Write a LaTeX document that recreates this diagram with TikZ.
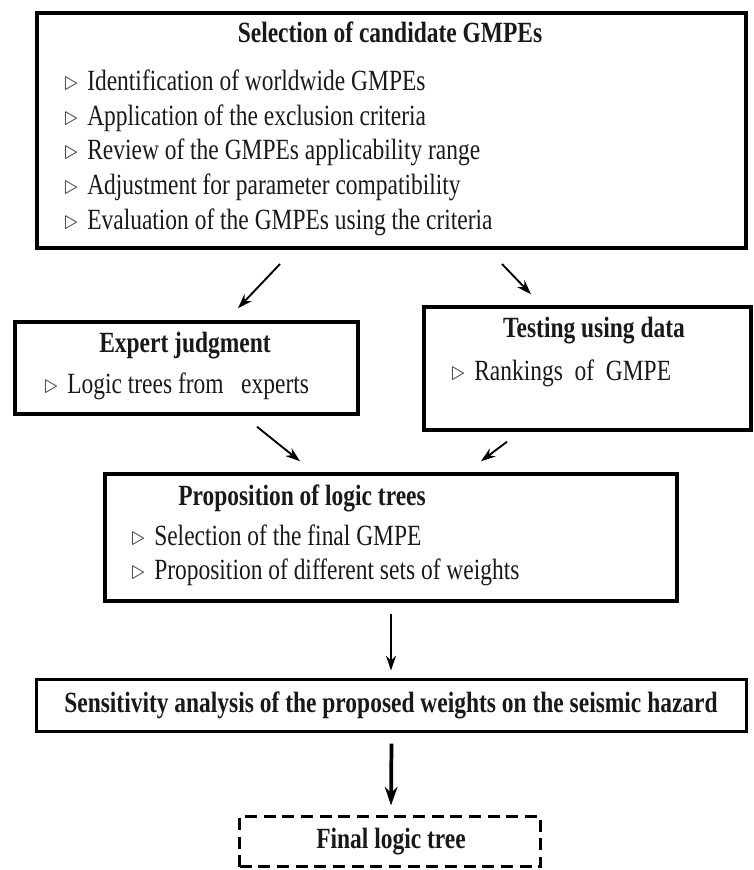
\documentclass[tikz,border=0pt]{standalone}
\usepackage{fontspec}
\setmainfont[FakeStretch=0.8]{Liberation Serif}
\usepackage{xcolor}
\usetikzlibrary{arrows.meta,calc,positioning}
\newcommand{\itm}{\makebox[17.25pt][l]{\textcolor{black!70}{\fontsize{20}{20}\selectfont$\triangleright$}}}

\begin{document}
\begin{tikzpicture}[x=0.75pt, y=-0.75pt,
		box/.style={draw, line width=2.6pt, inner sep=0pt},
		dashbox/.style={draw, line width=2.3pt, dash pattern=on 9pt off 5pt, inner sep=0pt},
		txt/.style={inner sep=0pt, anchor=base west, text=black!90, font=\fontsize{22}{24}\selectfont},
		head/.style={inner sep=0pt, anchor=base, text=black!90, font=\fontsize{22}{24}\selectfont\bfseries},
		arr/.style={-{Stealth[length=11pt, width=7.5pt]}, line width=1.4pt}]
	\useasboundingbox (0,0) rectangle (753,870);
	
	% Kaesten
	\node[box, line width=3pt, minimum width=531.75pt, minimum height=176.25pt] (sel) at (391.5,130.5) {};
	\node[box, minimum width=257pt, minimum height=69pt] (exp) at (186.5,368) {};
	\node[box, minimum width=245pt, minimum height=92.25pt] (test) at (587.5,368.5) {};
	\node[box, minimum width=429pt, minimum height=95.25pt] (prop) at (391,537.5) {};
	\node[box, line width=2.3pt, minimum width=532.5pt, minimum height=39pt] (sens) at (391.5,705.5) {};
	\node[dashbox, minimum width=225.75pt, minimum height=37.5pt] (final) at (390,841.5) {};
	
	% Auswahl der GMPEs
	\node[head] (sel-t) at (390,43) {Selection of candidate GMPEs};
	\foreach \txt [count=\k] in {Identification of worldwide GMPEs, Application of the exclusion criteria, Review of the GMPEs applicability range, Adjustment for parameter compatibility, Evaluation of the GMPEs using the criteria}
		\node[txt] (sel-\k) at (64,{91+34.5*(\k-1)}) {\itm\txt};
	
	\node[head] (exp-t) at (185,352) {Expert judgment};
	\node[txt] (exp-1) at (44,393) {\itm Logic trees from\ \ \ experts};
	
	\node[head] (test-t) at (594,337) {Testing using data};
	\node[txt] (test-1) at (451,380) {\itm Rankings\ \ of\ \ GMPE};
	
	\node[head, anchor=base west] (prop-t) at (178,505) {Proposition of logic trees};
	\node[txt] (prop-1) at (131,545) {\itm Selection of the final GMPE};
	\node[txt] (prop-2) at (131,579.5) {\itm Proposition of different sets of weights};
	
	\node[head] (sens-t) at (391,712) {Sensitivity analysis of the proposed weights on the seismic hazard};
	\node[head] (final-t) at (391,848) {Final logic tree};
	
	% Pfeile
	\draw[arr] ([shift={(-111.5,14)}]sel.south) -- ([shift={(51.5,-12)}]exp.north);
	\draw[arr] ([shift={(110.5,14)}]sel.south) -- ([shift={(-56.5,-11)}]test.north);
	\draw[arr] ([shift={(70.5,11)}]exp.south) -- ([shift={(-91,-11)}]prop.north);
	\draw[arr] ([shift={(-80.5,10)}]test.south) -- ([shift={(90,-11)}]prop.north);
	\draw[arr, line width=1.1pt] ([shift={(0,11)}]prop.south) -- ([shift={(-0.5,-7.5)}]sens.north);
	\draw[arr, line width=2.8pt, -{Stealth[length=14pt, width=9.5pt]}] ([shift={(0,10.5)}]sens.south) -- ([shift={(1,-9.5)}]final.north);
\end{tikzpicture}
\end{document}
